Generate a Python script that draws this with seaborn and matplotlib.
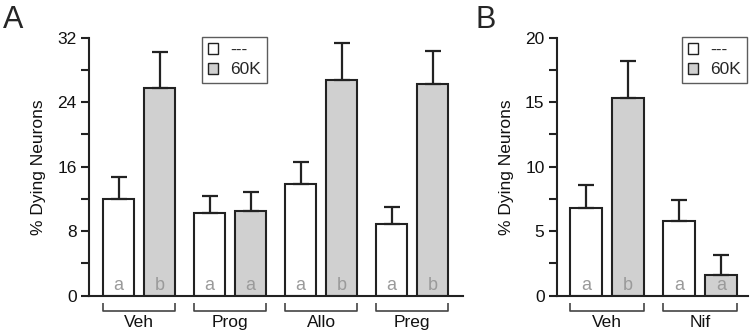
import pandas as pd
import numpy as np
import seaborn as sns
import matplotlib.pyplot as plt
from matplotlib.patches import Patch
from matplotlib.ticker import MultipleLocator
import matplotlib.transforms as mtrans

# panel A data
groups_a = ['Veh', 'Prog', 'Allo', 'Preg']
ctrl_a = [12.0, 10.2, 13.8, 8.9]
ctrl_a_err = [2.7, 2.2, 2.8, 2.1]
k60_a = [25.8, 10.5, 26.8, 26.2]
k60_a_err = [4.4, 2.4, 4.5, 4.2]
letters_a = [['a', 'a', 'a', 'a'], ['b', 'a', 'b', 'b']]

# panel B data
groups_b = ['Veh', 'Nif']
ctrl_b = [6.8, 5.8]
ctrl_b_err = [1.75, 1.6]
k60_b = [15.3, 1.6]
k60_b_err = [2.9, 1.55]
letters_b = [['a', 'a'], ['b', 'a']]

conds = ['---', '60K']

sns.set_style('ticks')
plt.rcParams['font.family'] = ['Liberation Sans', 'DejaVu Sans']
plt.rcParams['font.size'] = 12.5

edge = '#222222'
gray = '#d0d0d0'
palette = {'---': 'white', '60K': gray}


def make_df(groups, ctrl, k60):
    rows = []
    for g, v in zip(groups, ctrl):
        rows.append({'group': g, 'cond': '---', 'value': v})
    for g, v in zip(groups, k60):
        rows.append({'group': g, 'cond': '60K', 'value': v})
    return pd.DataFrame(rows)


def draw_panel(ax, groups, ctrl, ctrl_err, k60, k60_err, letters, ymax, major, xlim, leg_loc, leg_anchor):
    df = make_df(groups, ctrl, k60)
    sns.barplot(data=df, x='group', y='value', hue='cond', order=groups, hue_order=conds,
                palette=palette, edgecolor=edge, linewidth=1.5, width=0.9, gap=0.245,
                errorbar=None, legend=False, ax=ax)
    trans = mtrans.blended_transform_factory(ax.transData, ax.transAxes)
    bar_sets = list(ax.containers[:2])
    errs = [ctrl_err, k60_err]
    for ci, cont in enumerate(bar_sets):
        xs = [b.get_x() + b.get_width() / 2 for b in cont]
        hs = [b.get_height() for b in cont]
        ax.errorbar(xs, hs, yerr=[np.zeros(len(hs)), errs[ci]], fmt='none', ecolor=edge,
                    elinewidth=1.6, capsize=5.5, capthick=1.6, zorder=1)
        for x, lab in zip(xs, letters[ci]):
            ax.text(x, 0.041, lab, transform=trans, ha='center', va='center',
                    color='#9a9a9a', fontsize=13)
    # brackets under each group
    for gi in range(len(groups)):
        b0 = bar_sets[0][gi]
        b1 = bar_sets[1][gi]
        x0 = b0.get_x()
        x1 = b1.get_x() + b1.get_width()
        ax.plot([x0, x0, x1, x1], [-0.028, -0.058, -0.058, -0.028], transform=trans,
                color='#444444', lw=1.2, clip_on=False, solid_capstyle='butt')
        ax.text((x0 + x1) / 2, -0.105, groups[gi], transform=trans, ha='center', va='center',
                fontsize=12.5, color='#111111')
    ax.set_xticks([])
    ax.set_xlim(*xlim)
    ax.set_ylim(0, ymax)
    ax.yaxis.set_major_locator(MultipleLocator(major))
    ax.yaxis.set_minor_locator(MultipleLocator(major / 2))
    ax.tick_params(axis='y', which='both', length=6, width=1.5, color=edge, labelsize=12.5,
                   labelcolor='#111111', pad=3)
    ax.set_xlabel('')
    ax.set_ylabel('% Dying Neurons', fontsize=12.5, color='#111111', labelpad=8)
    for s in ['top', 'right']:
        ax.spines[s].set_visible(False)
    for s in ['left', 'bottom']:
        ax.spines[s].set_linewidth(1.5)
        ax.spines[s].set_color(edge)
    handles = [Patch(facecolor=palette[c], edgecolor=edge, linewidth=1.0) for c in conds]
    leg = ax.legend(handles, conds, loc=leg_loc, bbox_to_anchor=leg_anchor, borderaxespad=0,
                    frameon=True, fancybox=False, handlelength=0.6, handleheight=0.6,
                    handletextpad=0.7, labelspacing=0.25, borderpad=0.35, fontsize=12.5)
    leg.get_frame().set_edgecolor('#333333')
    leg.get_frame().set_linewidth(1.0)


fig = plt.figure(figsize=(7.52, 3.35), dpi=100)
ax_a = fig.add_axes([0.1184, 0.1173, 0.4973, 0.7702])
ax_b = fig.add_axes([0.7407, 0.1173, 0.254, 0.7702])

draw_panel(ax_a, groups_a, ctrl_a, ctrl_a_err, k60_a, k60_a_err, letters_a, 32, 8,
           (-0.55, 3.56), 'upper left', (0.302, 1.003))
draw_panel(ax_b, groups_b, ctrl_b, ctrl_b_err, k60_b, k60_b_err, letters_b, 20, 5,
           (-0.534, 1.515), 'upper right', (0.995, 1.003))

fig.text(0.004, 0.985, 'A', fontsize=22, ha='left', va='top')
fig.text(0.632, 0.985, 'B', fontsize=22, ha='left', va='top')

fig.savefig('out.png', dpi=100)
